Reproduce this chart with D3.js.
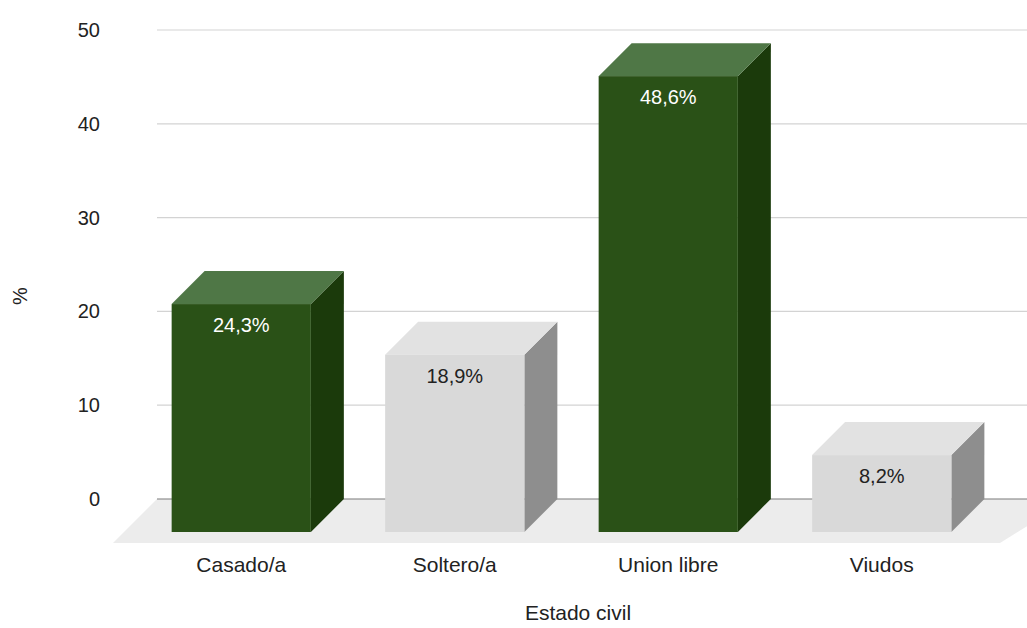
<!DOCTYPE html>
<html>
<head>
<meta charset="utf-8">
<script src="https://cdn.jsdelivr.net/npm/d3@7"></script>
<style>
  body { margin: 0; background: #fff; }
  svg { font-family: "Liberation Sans", Arial, sans-serif; }
</style>
</head>
<body>
<svg id="chart" width="1027" height="628"></svg>
<script>
// datos
const categories = ["Casado/a", "Soltero/a", "Union libre", "Viudos"];
const values = [24.3, 18.9, 48.6, 8.2];
const labels = ["24,3%", "18,9%", "48,6%", "8,2%"];
const barColors = ["green", "gray", "green", "gray"];
const yTicks = [0, 10, 20, 30, 40, 50];

const palette = {
  green: { front: "#2a5117", top: "#4f7746", side: "#1b3a0b", text: "#ffffff" },
  gray: { front: "#d9d9d9", top: "#e2e2e2", side: "#8e8e8e", text: "#222222" }
};

const svg = d3.select("#chart");
const depth = 33;      // desplazamiento 3D de las barras
const floorDepth = 44; // desplazamiento del piso
const gridLeft = 157, gridRight = 1027;

const y = d3.scaleLinear().domain([0, 50]).range([499, 30]);
const x = d3.scaleBand()
  .domain(categories)
  .range([167.5, 1021.5])
  .paddingInner(0.348)
  .paddingOuter(0.174);

// piso
const y0 = y(0);
svg.append("polygon")
  .attr("points", [
    [gridLeft, y0], [gridRight + floorDepth, y0],
    [gridRight - 27, y0 + floorDepth], [gridLeft - floorDepth, y0 + floorDepth]
  ].map(p => p.join(",")).join(" "))
  .attr("fill", "#ececec");

// lineas de cuadricula
svg.append("g")
  .selectAll("line")
  .data(yTicks)
  .enter().append("line")
  .attr("x1", gridLeft)
  .attr("x2", gridRight)
  .attr("y1", d => y(d))
  .attr("y2", d => y(d))
  .attr("stroke", d => d === 0 ? "#7a7a7a" : "#d3d3d3")
  .attr("stroke-width", 1.2);

// etiquetas del eje Y
svg.append("g")
  .selectAll("text")
  .data(yTicks)
  .enter().append("text")
  .attr("x", 100)
  .attr("y", d => y(d))
  .attr("dy", "0.35em")
  .attr("text-anchor", "end")
  .attr("font-size", 20)
  .attr("fill", "#222")
  .text(d => d);

// barras 3D
const bars = svg.append("g")
  .selectAll("g")
  .data(categories.map((c, i) => ({ cat: c, value: values[i], label: labels[i], color: palette[barColors[i]] })))
  .enter().append("g");

function pts(arr) { return arr.map(p => p.join(",")).join(" "); }

bars.each(function(d) {
  const g = d3.select(this);
  const bx = x(d.cat), bw = x.bandwidth();
  const top = y(d.value), bottom = y(0);
  // cara frontal desplazada
  const fx = bx - depth, fTop = top + depth, fBottom = bottom + depth;
  // lado
  g.append("polygon")
    .attr("points", pts([[fx + bw, fTop], [bx + bw, top], [bx + bw, bottom], [fx + bw, fBottom]]))
    .attr("fill", d.color.side);
  // tapa
  g.append("polygon")
    .attr("points", pts([[fx, fTop], [bx, top], [bx + bw, top], [fx + bw, fTop]]))
    .attr("fill", d.color.top);
  // frente
  g.append("rect")
    .attr("x", fx)
    .attr("y", fTop)
    .attr("width", bw)
    .attr("height", fBottom - fTop)
    .attr("fill", d.color.front);
  // valor
  g.append("text")
    .attr("x", fx + bw / 2)
    .attr("y", fTop + 28)
    .attr("text-anchor", "middle")
    .attr("font-size", 20)
    .attr("fill", d.color.text)
    .text(d.label);
});

// etiquetas de categorias
svg.append("g")
  .selectAll("text")
  .data(categories)
  .enter().append("text")
  .attr("x", d => x(d) - depth + x.bandwidth() / 2)
  .attr("y", 572)
  .attr("text-anchor", "middle")
  .attr("font-size", 21)
  .attr("fill", "#222")
  .text(d => d);

// titulos de ejes
svg.append("text")
  .attr("transform", "translate(27,296) rotate(-90)")
  .attr("text-anchor", "middle")
  .attr("font-size", 20)
  .attr("fill", "#222")
  .text("%");

svg.append("text")
  .attr("x", 578)
  .attr("y", 620)
  .attr("text-anchor", "middle")
  .attr("font-size", 21)
  .attr("fill", "#222")
  .text("Estado civil");
</script>
</body>
</html>
